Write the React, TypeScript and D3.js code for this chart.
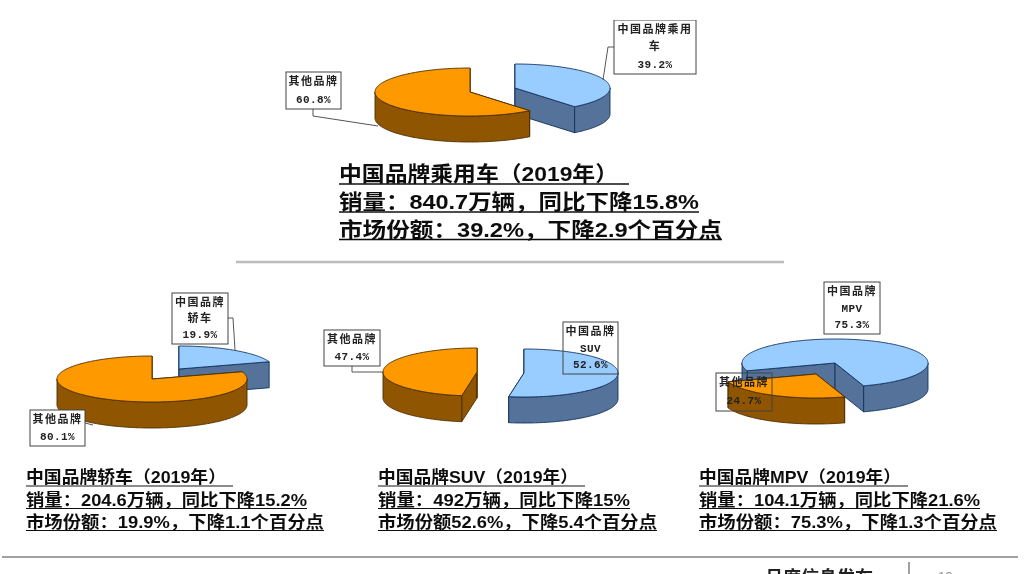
import React from "react";
import * as d3 from "d3";

const brandLabel = "中国品牌";
const otherLabel = "其他品牌";
const chartNames = ["乘用车", "轿车", "SUV", "MPV"];
const brandShare = [39.2, 19.9, 52.6, 75.3];
const otherShare = [60.8, 80.1, 47.4, 24.7];
const startDeg = [0, 0, 0, 251];

const W = 1029, H = 574;
const ORANGE = "#FF9900", ORANGE_D = "#8F5500", BLUE = "#99CCFF", BLUE_D = "#54729A";
const CJK = "'Liberation Sans','Noto Sans CJK SC',sans-serif";
const MONO = "'Liberation Mono','Noto Sans CJK SC',monospace";

type Layout = { b: [number, number]; o: [number, number]; rx: number; ry: number; depth: number };
const layouts: Layout[] = [
  { b: [515, 88], o: [470, 92], rx: 95, ry: 24, depth: 26 },
  { b: [179, 369], o: [152, 379], rx: 95, ry: 23, depth: 26 },
  { b: [524, 373], o: [477, 372], rx: 94, ry: 24, depth: 26 },
  { b: [835, 363], o: [816, 374], rx: 93, ry: 24, depth: 26 },
];

const line = d3.line<[number, number]>();

function Slice({ c, rx, ry, depth, a0, a1, top, side }: { c: [number, number]; rx: number; ry: number; depth: number; a0: number; a1: number; top: string; side: string }) {
  const pt = (a: number, dz = 0): [number, number] => [c[0] + rx * Math.sin(a), c[1] - ry * Math.cos(a) + dz];
  const angles = d3.range(a0, a1, Math.PI / 180).concat(a1);
  const topPts: [number, number][] = [c, ...angles.map((a) => pt(a))];
  const wallFor = (a: number): [number, number][] => [c, pt(a), pt(a, depth), [c[0], c[1] + depth]];
  const edge = side === BLUE_D ? "#12325e" : "#4a2c00";
  const front: [number, number][] = [];
  for (const k of [0, 1]) {
    const lo = Math.max(a0, Math.PI / 2 + k * 2 * Math.PI);
    const hi = Math.min(a1, (3 * Math.PI) / 2 + k * 2 * Math.PI);
    if (hi > lo) front.push([lo, hi]);
  }
  return (
    <g strokeWidth={0.9} strokeLinejoin="round" stroke={edge}>
      {[a0, a1].map((a, i) => (
        <path key={i} d={line(wallFor(a))! + "Z"} fill={side} />
      ))}
      {front.map(([lo, hi], i) => {
        const as = d3.range(lo, hi, Math.PI / 180).concat(hi);
        const pts = [...as.map((a) => pt(a)), ...as.slice().reverse().map((a) => pt(a, depth))];
        return <path key={i} d={line(pts)! + "Z"} fill={side} />;
      })}
      <path d={line(topPts)! + "Z"} fill={top} />
    </g>
  );
}

function Pie3D({ i }: { i: number }) {
  const l = layouts[i];
  const start = (startDeg[i] * Math.PI) / 180;
  const arcs = d3.pie<number>().sort(null).startAngle(start).endAngle(start + 2 * Math.PI)([brandShare[i], otherShare[i]]);
  const [bArc, oArc] = arcs;
  return (
    <g>
      <Slice c={l.b} rx={l.rx} ry={l.ry} depth={l.depth} a0={bArc.startAngle} a1={bArc.endAngle} top={BLUE} side={BLUE_D} />
      <Slice c={l.o} rx={l.rx} ry={l.ry} depth={l.depth} a0={oArc.startAngle} a1={oArc.endAngle} top={ORANGE} side={ORANGE_D} />
    </g>
  );
}

function Label({ x, y, w, h, lines, fill, leader }: { x: number; y: number; w: number; h: number; lines: string[]; fill: string; leader?: [number, number][] }) {
  const step = h / (lines.length + 0.12);
  return (
    <g>
      {leader && <path d={line(leader)!} fill="none" stroke="#555" strokeWidth={1} />}
      <rect x={x} y={y} width={w} height={h} fill={fill} stroke="#444" strokeWidth={1} />
      {lines.map((t, k) => {
        const ascii = /^[\x00-\x7f]+$/.test(t);
        return (
          <text key={k} x={x + w / 2} y={y + step * (k + 0.5) + 4.5} textAnchor="middle" fontSize={11} fontWeight={700} fill="#222" fontFamily={MONO} letterSpacing={ascii ? 0.4 : 1.5}>
            {t}
          </text>
        );
      })}
    </g>
  );
}

const pct = (v: number) => v.toFixed(1) + "%";

function Block({ x, ys, lines, widths, rules, size }: { x: number; ys: number[]; lines: string[]; widths: number[]; rules: number[]; size: number }) {
  return (
    <g>
      {lines.map((t, k) => (
        <g key={k}>
          <text x={x} y={ys[k]} fontSize={size} fontWeight={700} fill="#111" fontFamily={CJK} textLength={widths[k]} lengthAdjust="spacingAndGlyphs">
            {t}
          </text>
          <line x1={x} x2={x + rules[k]} y1={ys[k] + 3} y2={ys[k] + 3} stroke="#111" strokeWidth={size > 18 ? 1.5 : 1.2} />
        </g>
      ))}
    </g>
  );
}

export default function App() {
  return (
    <svg width={W} height={H} viewBox={`0 0 ${W} ${H}`} style={{ position: "absolute", left: 0, top: 0, background: "#fff" }}>
      <defs>
        <filter id="soft" x="0" y="0" width="100%" height="100%">
          <feGaussianBlur stdDeviation="0.35" />
        </filter>
      </defs>
      <g filter="url(#soft)">
        <Pie3D i={0} />
        <Pie3D i={1} />
        <Pie3D i={2} />
        <Pie3D i={3} />

        <Label x={614} y={20} w={82} h={54} fill="#fff" lines={[brandLabel + "乘用", "车", pct(brandShare[0])]} leader={[[614, 47], [608, 47], [603, 80]]} />
        <Label x={286} y={72} w={55} h={37} fill="#fff" lines={[otherLabel, pct(otherShare[0])]} leader={[[313, 109], [313, 116], [378, 126]]} />
        <Label x={172} y={293} w={56} h={51} fill="#fff" lines={[brandLabel, chartNames[1], pct(brandShare[1])]} leader={[[228, 318], [233, 318], [235, 350]]} />
        <Label x={30} y={410} w={55} h={36} fill="#fff" lines={[otherLabel, pct(otherShare[1])]} leader={[[85, 423], [93, 425]]} />
        <Label x={324} y={330} w={56} h={36} fill="#fff" lines={[otherLabel, pct(otherShare[2])]} leader={[[352, 366], [352, 372], [384, 372]]} />
        <Label x={563} y={322} w={55} h={52} fill="none" lines={[brandLabel, chartNames[2], pct(brandShare[2])]} />
        <Label x={824} y={282} w={56} h={52} fill="#fff" lines={[brandLabel, chartNames[3], pct(brandShare[3])]} />
        <Label x={716} y={373} w={56} h={38} fill="none" lines={[otherLabel, pct(otherShare[3])]} />

        <Block x={339} ys={[181, 209, 236.5]} size={21} widths={[279, 360, 383]} rules={[290, 360, 383]} lines={["中国品牌乘用车（2019年）", "销量：840.7万辆，同比下降15.8%", "市场份额：39.2%，下降2.9个百分点"]} />
        <line x1={236} x2={784} y1={262} y2={262} stroke="#bdbdbd" strokeWidth={2.5} />

        <Block x={26} ys={[483, 505.5, 527.5]} size={16.5} widths={[200, 281, 298]} rules={[207, 281, 298]} lines={["中国品牌轿车（2019年）", "销量：204.6万辆，同比下降15.2%", "市场份额：19.9%，下降1.1个百分点"]} />
        <Block x={378} ys={[483, 505.5, 527.5]} size={16.5} widths={[200, 252, 279]} rules={[207, 252, 279]} lines={["中国品牌SUV（2019年）", "销量：492万辆，同比下降15%", "市场份额52.6%，下降5.4个百分点"]} />
        <Block x={699} ys={[483, 505.5, 527.5]} size={16.5} widths={[202, 281, 298]} rules={[209, 281, 298]} lines={["中国品牌MPV（2019年）", "销量：104.1万辆，同比下降21.6%", "市场份额：75.3%，下降1.3个百分点"]} />

        <line x1={2} x2={1018} y1={557} y2={557} stroke="#444" strokeWidth={1} />
        <line x1={909} x2={909} y1={562} y2={574} stroke="#444" strokeWidth={1} />
        <text x={765} y={584} fontSize={18} fontWeight={700} fill="#222" fontFamily={CJK}>月度信息发布</text>
        <text x={938} y={581} fontSize={13} fill="#888" fontFamily={CJK}>12</text>
      </g>
    </svg>
  );
}
